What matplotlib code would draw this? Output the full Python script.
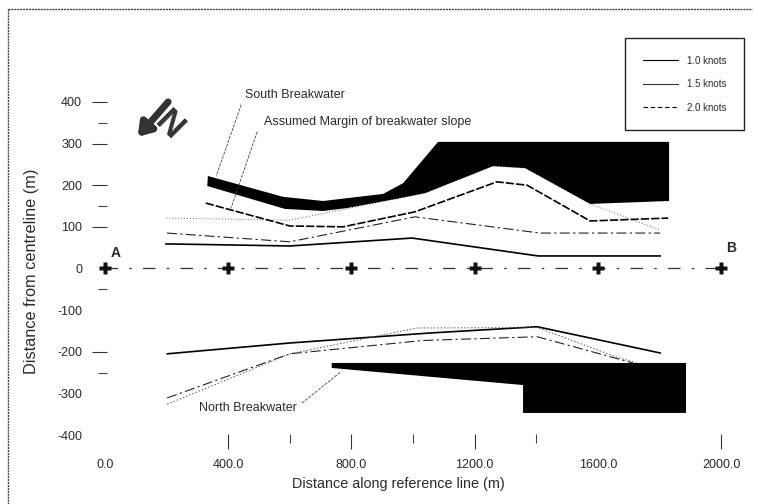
"""Current speed contours along the harbour entrance reference line."""

import matplotlib
matplotlib.use("Agg")
import matplotlib.pyplot as plt
from matplotlib.lines import Line2D

plt.rcParams["font.family"] = ["Liberation Sans", "DejaVu Sans"]

INK = "#2a2a2a"
W, H = 758, 504

# breakwater outlines
south_x = [334, 578, 708, 903, 968, 1081, 1831, 1831, 1575, 1364, 1260, 1039, 958, 785, 708, 584, 332]
south_y = [222, 172, 162, 179, 205, 304, 304, 162, 155, 241, 246, 181, 169, 145, 138, 143, 198]
north_x = [736, 1886, 1886, 1357, 1357, 1023, 736]
north_y = [-227, -227, -347, -347, -280, -258, -239]

# speed contours, south side
s10_x = [198, 600, 997, 1406, 1802]
s10_y = [59, 54, 73, 30, 30]
s15_x = [201, 600, 1006, 1412, 1802]
s15_y = [85, 64, 124, 85, 85]
s20_x = [327, 600, 773, 1006, 1272, 1370, 1575, 1828]
s20_y = [157, 102, 100, 136, 208, 200, 114, 121]
margin_x = [200, 600, 958, 1039, 1260, 1364, 1575, 1802]
margin_y = [121, 116, 169, 181, 246, 241, 155, 92]

# speed contours, north side
n10_x = [202, 600, 1055, 1403, 1802]
n10_y = [-205, -179, -155, -140, -203]
n15_x = [202, 600, 1032, 1403, 1714]
n15_y = [-311, -205, -173, -164, -227]
n20_x = [202, 600, 1013, 1403, 1662, 1760]
n20_y = [-326, -205, -143, -142, -213, -235]

# reference line
ref_x = [0, 2000]
ref_y = [0, 0]
cross_x = [0, 400, 800, 1200, 1600, 2000]
cross_y = [0, 0, 0, 0, 0, 0]

x_labelled = [0, 400, 800, 1200, 1600, 2000]
x_bare = [0, 1600]
x_minor = [600, 1000, 1400]
y_labelled = [400, 300, 200, 100, 0, -100, -200, -300, -400]
y_bare = [0, -100, -300, -400]
y_minor = [350, 150, -50, -250]

fig = plt.figure(figsize=(W / 100, H / 100), dpi=100)
ax = fig.add_axes([105 / W, 1 - 435 / H, 630 / W, 355 / H])
# ticks sit just inside the zero lines in the source
ax.spines["left"].set_position(("outward", -1.44))
ax.spines["bottom"].set_position(("outward", -0.72))
for s in ax.spines.values():
    s.set_visible(False)

ax.fill(south_x, south_y, color="black", lw=0, zorder=3, clip_on=False)
ax.fill(north_x, north_y, color="black", lw=0, zorder=3, clip_on=False)

ax.plot(margin_x, margin_y, color="#666666", lw=0.7, ls=(0, (1, 2)), zorder=2)
ax.plot(s10_x, s10_y, color="black", lw=1.2, zorder=2)
ax.plot(s15_x, s15_y, color="#222222", lw=0.8, ls=(0, (9, 3, 2, 3)), zorder=2)
ax.plot(s20_x, s20_y, color="black", lw=1.2, ls=(0, (5, 1.2)), zorder=2)
ax.plot(n10_x, n10_y, color="black", lw=1.2, zorder=2)
ax.plot(n15_x, n15_y, color="#222222", lw=0.8, ls=(0, (9, 3, 2, 3)), zorder=2)
ax.plot(n20_x, n20_y, color="#555555", lw=0.7, ls=(0, (1.5, 2)), zorder=2)

ax.plot(ref_x, ref_y, color="#333333", lw=0.9, ls=(0, (10, 9, 2, 9)), clip_on=False)
ax.plot(cross_x, cross_y, ls="none", marker="P", ms=8.5, mfc="#111111", mec="none",
        clip_on=False, zorder=4)

# axes ticks are irregular in the source, so some are switched off by hand
ax.set_xticks(x_labelled)
ax.set_xticklabels([f"{v:.1f}" for v in x_labelled])
ax.set_xticks(x_minor, minor=True)
ax.set_yticks(y_labelled)
ax.set_yticklabels([str(v) for v in y_labelled])
ax.set_yticks(y_minor, minor=True)
ax.set_xlim(0, 2045)
ax.set_ylim(-400, 452.6)
ax.xaxis.tick_bottom()
ax.tick_params(axis="both", which="major", length=11, width=0.8, color="#333333",
               labelsize=9, labelcolor=INK, pad=7)
ax.tick_params(axis="both", which="minor", length=6.5, width=0.8, color="#444444")
for t in ax.xaxis.get_major_ticks():
    if t.get_loc() in x_bare:
        t.tick1line.set_visible(False)
for t in ax.yaxis.get_major_ticks():
    if t.get_loc() in y_bare:
        t.tick1line.set_visible(False)

ax.set_xlabel("Distance along reference line (m)", fontsize=10.4, color=INK)
ax.xaxis.set_label_coords(398 / W, 1 - 477 / H, transform=fig.transFigure)
ax.set_ylabel("Distance from centreline (m)", fontsize=11.7, color=INK)
ax.yaxis.set_label_coords(39 / W, 1 - 271 / H, transform=fig.transFigure)

leader = dict(arrowstyle="-", color="#444444", lw=0.6, ls=(0, (3, 2)), shrinkA=0, shrinkB=0)
ax.annotate("", xy=(361, 222), xytext=(442, 393), arrowprops=leader)
ax.annotate("", xy=(409, 145), xytext=(494, 328), arrowprops=leader)
ax.annotate("", xy=(764, -249), xytext=(640, -323), arrowprops=leader)
ax.text(455, 416, "South Breakwater", fontsize=9, color=INK, va="center")
ax.text(517, 352, "Assumed Margin of breakwater slope", fontsize=9, color=INK, va="center")
ax.text(305, -335, "North Breakwater", fontsize=9, color=INK, va="center")
ax.text(36, 37, "A", fontsize=10, fontweight="bold", color=INK, ha="center", va="center")
ax.text(2032, 49, "B", fontsize=10, fontweight="bold", color=INK, ha="center", va="center")

# north arrow
ax.annotate("", xy=(106, 316), xytext=(205, 400), annotation_clip=False,
            arrowprops=dict(arrowstyle="-|>,head_width=0.5,head_length=0.75",
                            color="#333333", lw=5, shrinkA=0, shrinkB=0))
ax.text(213, 362, "N", fontsize=25, fontweight="bold", color="#333333", rotation=135,
        ha="center", va="center", rotation_mode="anchor")

handles = [
    Line2D([], [], color="black", lw=0.8),
    Line2D([], [], color="#333333", lw=0.8),
    Line2D([], [], color="black", lw=0.8, ls=(0, (4, 2.5))),
]
leg = ax.legend(handles, ["1.0 knots", "1.5 knots", "2.0 knots"], fontsize=7,
                loc="upper left", bbox_to_anchor=(625 / W, 1 - 38 / H),
                bbox_transform=fig.transFigure, borderaxespad=0, borderpad=1.8,
                handlelength=3.6, handletextpad=0.95, labelspacing=1.4,
                fancybox=False, framealpha=1, edgecolor="#222222")
leg.get_frame().set_linewidth(1.0)
for txt in leg.get_texts():
    txt.set_color(INK)

# page frame, only left and top survive in the scan
for xs, ys in (([7.5, 7.5], [9, 504]), ([7.5, 752], [9, 9])):
    fig.add_artist(Line2D([v / W for v in xs], [1 - v / H for v in ys], color="#444444",
                          lw=1.0, ls=(0, (1.5, 0.6))))

fig.savefig("out.png", dpi=100)
